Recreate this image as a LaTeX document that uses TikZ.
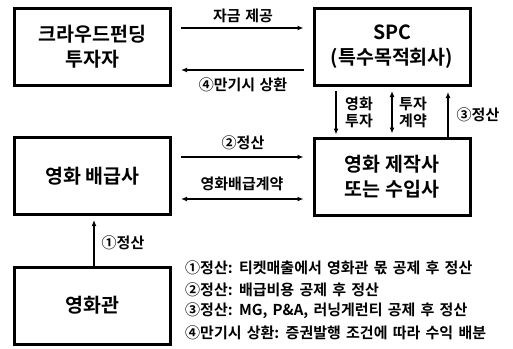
\documentclass[tikz,border=0pt]{standalone}
\usepackage{fontspec}
\setmainfont{Noto Sans CJK KR}[BoldFont={Noto Sans CJK KR Bold}]
\usetikzlibrary{arrows.meta,calc}
\newcommand\lblfont{\fontsize{15}{17}\selectfont\bfseries\spaceskip=0.3em plus 0.1em\relax}
\newcommand\legfont{\fontsize{15}{17}\selectfont\bfseries\spaceskip=0.35em plus 0.1em\relax}
\tikzset{
  box/.style={draw, line width=3pt, minimum width=156pt, minimum height=77pt, inner sep=0pt, align=center, font=\fontsize{19.5}{25}\selectfont\bfseries},
  arr/.style={line width=1.3pt, -{Latex[length=6pt,width=5pt]}},
  darr/.style={line width=1.3pt, {Latex[length=6pt,width=5pt]}-{Latex[length=6pt,width=5pt]}},
  lbl/.style={inner sep=0pt, align=center, font=\lblfont},
  leg/.style={inner sep=0pt, anchor=west, font=\legfont}
}
\begin{document}
\begin{tikzpicture}[x=1pt,y=-1pt]
\useasboundingbox (0,0) rectangle (513,348);
\node[box] (crowd) at (92.5,47) {크라우드펀딩\\투자자};
\node[box] (spc) at (392,47) {SPC\\(특수목적회사)};
\node[box] (dist) at (92.5,176) {영화 배급사};
\node[box] (prod) at (392,176.5) {영화 제작사\\또는 수입사};
\node[box] (theater) at (92.5,305.5) {영화관};

% horizontal arrows top
\draw[arr, shorten <=9pt, shorten >=9pt] (crowd.east |- 0,28) -- (spc.west |- 0,28);
\node[lbl] (l1) at (243,16) {자금 제공};
\draw[arr, shorten <=9pt, shorten >=9pt] (spc.west |- 0,70) -- (crowd.east |- 0,70);
\node[lbl] (l2) at (243,85) {④만기시 상환};

% horizontal arrows middle
\draw[arr, shorten <=9pt, shorten >=9pt] (dist.east |- 0,157) -- (prod.west |- 0,157);
\node[lbl] (l3) at (243,143) {②정산};
\draw[darr, shorten <=9pt, shorten >=9pt] (dist.east |- 0,199) -- (prod.west |- 0,199);
\node[lbl] (l4) at (242,184) {영화배급계약};

% vertical arrows
\draw[arr, shorten <=4pt, shorten >=2pt] (spc.south -| 336,0) -- (prod.north -| 336,0);
\node[lbl] (l5) at (359,112) {영화\\투자};
\draw[darr, shorten <=4pt, shorten >=3pt] (spc.south -| 392,0) -- (prod.north -| 392,0);
\node[lbl] (l6) at (413,112) {투자\\계약};
\draw[arr, shorten >=5pt] (prod.north -| 448,0) -- (spc.south -| 448,0);
\node[lbl] (l7) at (478,115) {③정산};

\draw[arr, shorten >=4pt] (theater.north -| 94,0) -- (dist.south -| 94,0);
\node[lbl] (l8) at (123,243) {①정산};

% legend
\node[leg] (g1) at (185,267.5) {①정산: 티켓매출에서 영화관 몫 공제 후 정산};
\node[leg] (g2) at (185,289.3) {②정산: 배급비용 공제 후 정산};
\node[leg] (g3) at (185,311.2) {③정산: MG, P\&A, 러닝게런티 공제 후 정산};
\node[leg] (g4) at (185,333) {④만기시 상환: 증권발행 조건에 따라 수익 배분};
\end{tikzpicture}
\end{document}
